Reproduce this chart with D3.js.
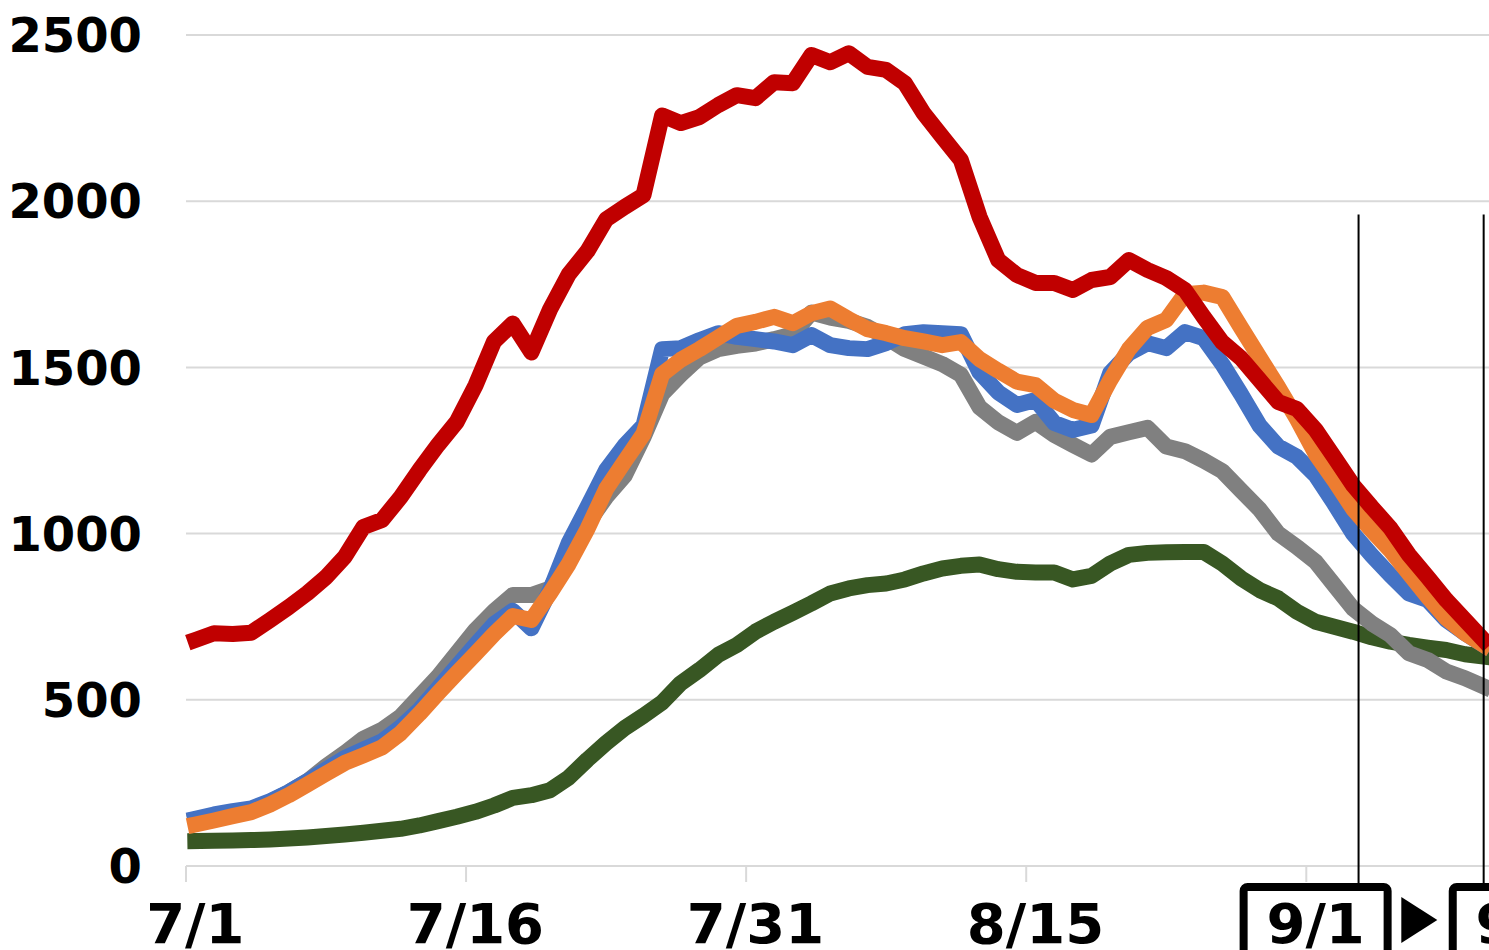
<!DOCTYPE html>
<html>
<head>
<meta charset="utf-8">
<script src="https://cdn.jsdelivr.net/npm/d3@7"></script>
<style>
  html, body { margin: 0; padding: 0; background: #fff; }
  svg { display: block; }
  text { font-family: "DejaVu Sans", sans-serif; font-weight: bold; fill: #000; }
</style>
</head>
<body>
<div id="chart"></div>
<script>
// DATA (7/1 .. 9/8, one value per day)

const startDate = new Date(2021, 6, 1);
const nDays = 70;

const red = [680, 700, 698, 702, 740, 779, 821, 869, 930, 1020,
    1041, 1110, 1191, 1267, 1336, 1445, 1578, 1632, 1545, 1675,
    1780, 1850, 1945, 1983, 2018, 2258, 2235, 2253, 2289, 2319,
    2310, 2358, 2355, 2440, 2418, 2445, 2404, 2395, 2355, 2265,
    2194, 2124, 1953, 1823, 1778, 1754, 1754, 1733, 1763, 1772,
    1823, 1793, 1769, 1733, 1652, 1576, 1528, 1462, 1396, 1375,
    1312, 1230, 1146, 1080, 1017, 936, 869, 800, 740, 680];

const blue = [142, 155, 165, 173, 195, 222, 255, 290, 325, 350,
    375, 418, 470, 535, 600, 665, 728, 768, 715, 830,
    972, 1080, 1191, 1266, 1325, 1555, 1558, 1582, 1603, 1592,
    1585, 1578, 1567, 1597, 1567, 1558, 1555, 1573, 1600, 1606,
    1603, 1600, 1485, 1425, 1387, 1402, 1333, 1312, 1325, 1483,
    1543, 1573, 1558, 1606, 1588, 1510, 1420, 1325, 1262, 1231,
    1175, 1090, 1000, 935, 875, 820, 800, 740, 700, 665];

const orange = [125, 137, 150, 162, 185, 213, 245, 278, 310, 333,
    357, 400, 458, 520, 580, 638, 698, 752, 740, 821,
    909, 1014, 1134, 1218, 1300, 1480, 1523, 1555, 1590, 1625,
    1637, 1652, 1633, 1663, 1677, 1645, 1615, 1603, 1588, 1578,
    1567, 1576, 1525, 1490, 1457, 1447, 1400, 1372, 1357, 1462,
    1555, 1619, 1643, 1720, 1725, 1712, 1620, 1530, 1440, 1345,
    1240, 1160, 1075, 1010, 950, 880, 810, 745, 700, 665];

const gray = [140, 152, 162, 170, 192, 222, 255, 300, 340, 383,
    410, 450, 510, 570, 640, 710, 767, 815, 815, 835,
    930, 1030, 1110, 1175, 1290, 1420, 1478, 1530, 1555, 1565,
    1572, 1585, 1600, 1665, 1650, 1640, 1622, 1590, 1555, 1533,
    1510, 1478, 1380, 1335, 1303, 1336, 1297, 1267, 1238, 1291,
    1305, 1318, 1262, 1248, 1220, 1188, 1130, 1073, 1000, 960,
    915, 845, 775, 730, 695, 640, 620, 585, 565, 540];

const green = [75, 76, 77, 78, 80, 83, 86, 90, 95, 100,
    106, 112, 122, 135, 148, 163, 182, 205, 213, 228,
    266, 320, 370, 415, 452, 492, 550, 590, 635, 665,
    705, 735, 762, 790, 820, 835, 845, 850, 862, 880,
    895, 903, 907, 893, 885, 883, 883, 862, 873, 910,
    936, 942, 944, 945, 945, 910, 866, 830, 805, 765,
    735, 720, 705, 688, 675, 665, 657, 650, 637, 630];

const yTicks = [0, 500, 1000, 1500, 2000, 2500];
const xTickIdx = [0, 15, 30, 45, 60];
const xLabelIdx = [0, 15, 30, 45];   // 8/30 sits under the 9/1 box
const boxLabels = ['9/1', '9/8'];

// CHART

const width = 1489;
const height = 950;

const days = d3.timeDay.range(startDate, d3.timeDay.offset(startDate, nDays));
const fmt = d3.timeFormat('%-m/%-d');

const svg = d3.select('#chart')
    .append('svg')
        .attr('width', width)
        .attr('height', height);

// one category per day, ticks on the category boundaries
const x = d3.scaleLinear()
    .domain([-0.5, nDays - 0.5])
    .range([186, 1493]);
const y = d3.scaleLinear()
    .domain([0, 2500])
    .range([866, 35]);

// grid
svg.append('g')
    .selectAll('line')
    .data(yTicks)
    .join('line')
        .attr('x1', x(-0.5))
        .attr('x2', x(nDays - 0.5))
        .attr('y1', d => y(d))
        .attr('y2', d => y(d))
        .attr('stroke', '#d9d9d9')
        .attr('stroke-width', 2);

// y labels
svg.append('g')
    .selectAll('text')
    .data(yTicks)
    .join('text')
        .attr('x', 142)
        .attr('y', d => y(d))
        .attr('dy', '0.36em')
        .attr('text-anchor', 'end')
        .attr('font-size', 48)
        .text(d => d);

// x ticks + labels
svg.append('g')
    .selectAll('line')
    .data(xTickIdx)
    .join('line')
        .attr('x1', d => x(d - 0.5))
        .attr('x2', d => x(d - 0.5))
        .attr('y1', y(0))
        .attr('y2', y(0) + 16)
        .attr('stroke', '#d9d9d9')
        .attr('stroke-width', 2);

svg.append('g')
    .selectAll('text')
    .data(xLabelIdx)
    .join('text')
        .attr('x', d => x(d))
        .attr('y', 943)
        .attr('text-anchor', 'middle')
        .attr('font-size', 56)
        .text(d => fmt(days[d]));

// lines
const l = d3.line()
    .x((d, i) => x(i))
    .y(d => y(d));

const series = [
    {values: green, color: '#385723'},
    {values: gray, color: '#808080'},
    {values: blue, color: '#4472c4'},
    {values: orange, color: '#ed7d31'},
    {values: red, color: '#c00000'}
];

svg.append('g')
    .selectAll('path')
    .data(series)
    .join('path')
        .attr('fill', 'none')
        .attr('stroke', d => d.color)
        .attr('stroke-width', 16)
        .attr('stroke-linejoin', 'round')
        .attr('stroke-linecap', 'square')
        .attr('d', d => l(d.values));

// annotation: 9/1 ▶ 9/8
const marks = [62.3, 69];
const boxCenters = [60, 71.2];
const boxTop = 887;
const boxW = 144;

svg.append('g')
    .selectAll('line')
    .data(marks)
    .join('line')
        .attr('x1', d => x(d))
        .attr('x2', d => x(d))
        .attr('y1', y(1960))
        .attr('y2', boxTop)
        .attr('stroke', '#000')
        .attr('stroke-width', 2);

const boxes = svg.append('g')
    .selectAll('g')
    .data(boxCenters)
    .join('g')
        .attr('transform', d => `translate(${x(d)},${boxTop})`);

boxes.append('rect')
    .attr('x', -boxW / 2)
    .attr('y', 0)
    .attr('width', boxW)
    .attr('height', 120)
    .attr('rx', 4)
    .attr('fill', '#fff')
    .attr('stroke', '#000')
    .attr('stroke-width', 8);

boxes.append('text')
    .attr('x', 0)
    .attr('y', 56)
    .attr('text-anchor', 'middle')
    .attr('font-size', 56)
    .text((d, i) => boxLabels[i]);

// arrow between boxes
const ax = x(65.5);
svg.append('path')
    .attr('d', `M${ax - 17},${boxTop + 10} L${ax + 19},${boxTop + 33} L${ax - 17},${boxTop + 56} Z`)
    .attr('fill', '#000');

</script>
</body>
</html>
